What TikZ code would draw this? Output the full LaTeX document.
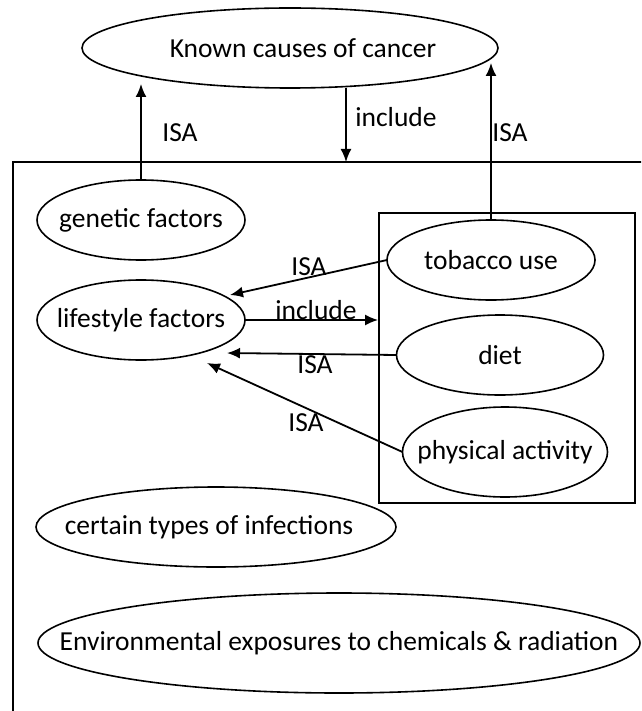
\documentclass[tikz,border=0pt]{standalone}
\usepackage{fontspec}
\setmainfont{Carlito}
\usetikzlibrary{arrows.meta,shapes.geometric}
\newcommand{\zw}[1]{\makebox[0pt]{#1}}
\begin{document}
\begin{tikzpicture}[x=1pt,y=-1pt,
  ell/.style={draw, ellipse, line width=1.6pt, inner sep=0pt, outer sep=0pt, font=\fontsize{27.5}{31}\selectfont},
  lbl/.style={font=\fontsize{27.5}{31}\selectfont, inner sep=0pt},
  arr/.style={line width=1.8pt, -{Latex[length=13pt,width=11pt]}},
  frame/.style={line width=1.8pt}]
\useasboundingbox (0,0) rectangle (641,711);
\clip (0,0) rectangle (641,711);
% outer frame (open beyond the picture)
\draw[frame] (680,162) -- (13,162) -- (13,740);
% inner box
\node[draw, frame, minimum width=256pt, minimum height=290pt, inner sep=0pt] (ib) at (507,358) {};
% ellipses
\node[ell, minimum width=416pt, minimum height=80pt] (k) at (290,48) {\zw{\hspace*{26pt}Known causes of cancer}};
\node[ell, minimum width=208pt, minimum height=80pt] (g) at (141,220) {\zw{genetic factors}};
\node[ell, minimum width=208pt, minimum height=80pt] (l) at (141,320) {\zw{lifestyle factors}};
\node[ell, minimum width=208pt, minimum height=80pt] (t) at (491,260) {\zw{tobacco use}};
\node[ell, minimum width=207pt, minimum height=80pt] (d) at (500,355) {\zw{diet}};
\node[ell, minimum width=205pt, minimum height=90pt] (p) at (505,452) {\zw{physical activity}};
\node[ell, minimum width=360pt, minimum height=80pt] (c) at (216,527) {\zw{\hspace*{-14pt}certain types of infections}};
\node[ell, minimum width=602pt, minimum height=100pt] (e) at (339,643) {\zw{Environmental exposures to chemicals \& radiation}};
% connector end points
\coordinate (kg) at (154,84);
\coordinate (kt) at (491,63);
\coordinate (ks) at (346,88);
\coordinate (fb) at (346,162);
\coordinate (lt) at (230,295);
\coordinate (ld) at (227,353);
\coordinate (lp) at (207,363);
% connectors
\draw[arr] (g.north) -- (g.north |- kg);
\draw[arr] (t.north) -- (t.north |- kt);
\draw[arr] (ks) -- (fb);
\draw[arr] (t.west) -- (lt);
\draw[arr] (l.east) -- (l.east -| ib.west);
\draw[arr] (d.west) -- (ld);
\draw[arr] (p.west) -- (lp);
% labels
\node[lbl] (isa1) at (180,133) {ISA};
\node[lbl] (inc1) at (396,117) {include};
\node[lbl] (isa2) at (510,133) {ISA};
\node[lbl] (isa3) at (309,267) {ISA};
\node[lbl] (inc2) at (316,310) {include};
\node[lbl] (isa4) at (315,365) {ISA};
\node[lbl] (isa5) at (306,423) {ISA};
\end{tikzpicture}
\end{document}
